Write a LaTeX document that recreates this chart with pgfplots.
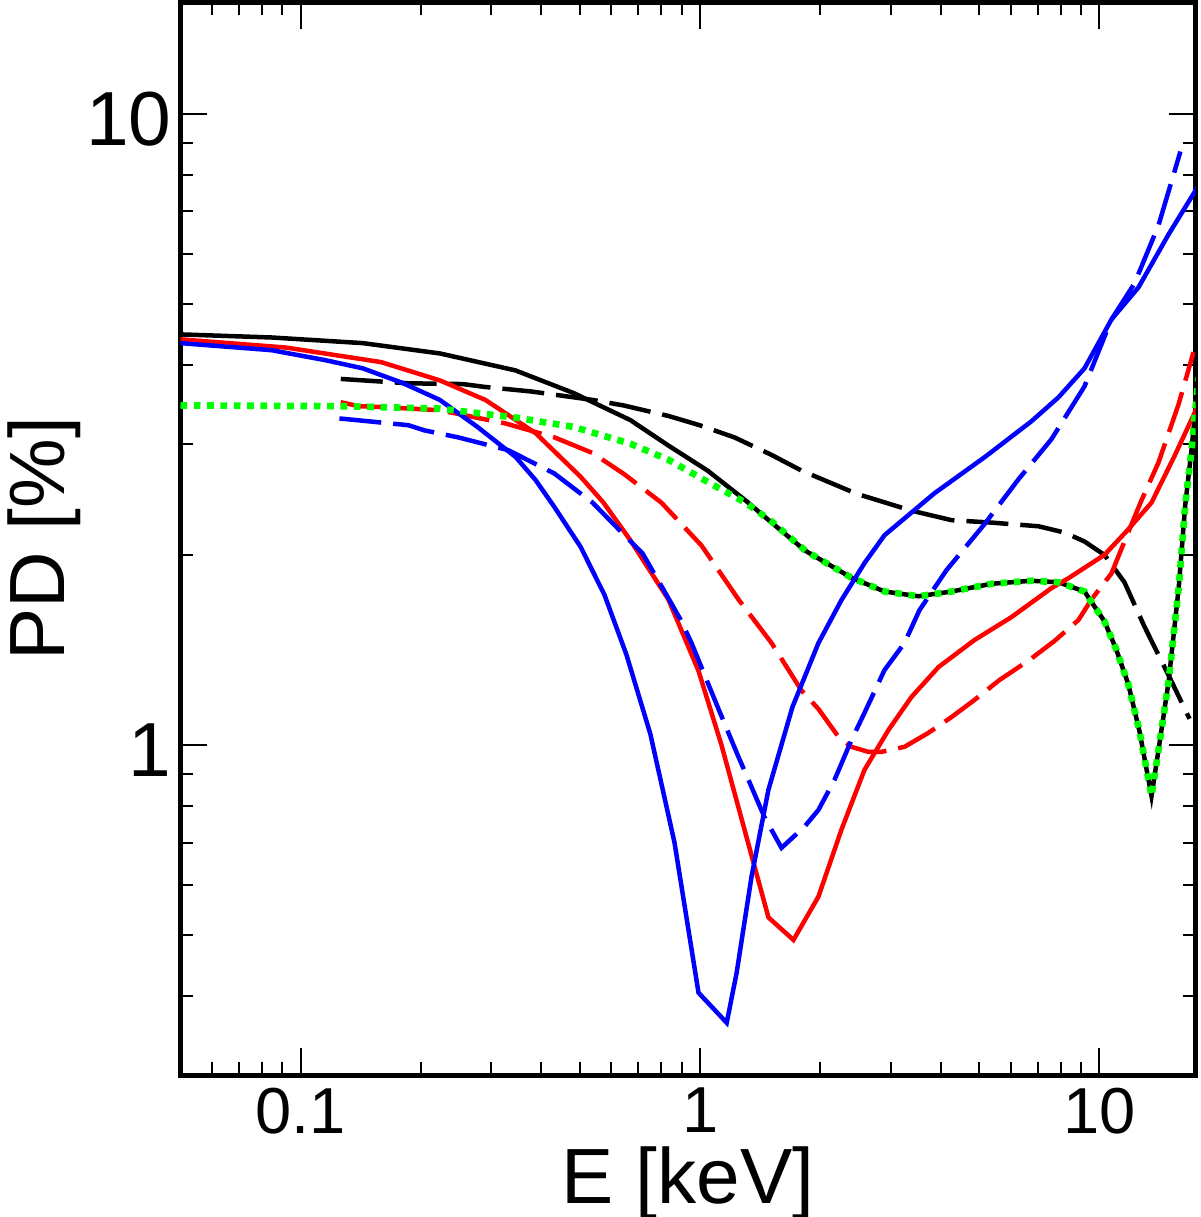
\documentclass[border=0pt]{standalone}
\usepackage{pgfplots}
\pgfplotsset{compat=1.18}
\usepackage{fontspec}
\setmainfont{Liberation Sans}

\definecolor{pdblue}{RGB}{0,0,255}
\definecolor{pdred}{RGB}{255,0,0}
\definecolor{pdgreen}{RGB}{0,255,0}

\begin{document}
\begin{tikzpicture}
\begin{axis}[
  xmode=log, ymode=log,
  scale only axis,
  width=304.5pt, height=321.75pt,
  xmin=0.05, xmax=17.4, ymin=0.3, ymax=15,
  axis line style={line width=1.5pt},
  every tick/.style={line width=0.6pt, black},
  major tick length=8pt, minor tick length=3.8pt,
  xtick={0.1,1,10}, xticklabels={0.1,1,10},
  ytick={1,10}, yticklabels={1,10},
  minor xtick={0.06,0.07,0.08,0.09,0.2,0.3,0.4,0.5,0.6,0.7,0.8,0.9,2,3,4,5,6,7,8,9},
  minor ytick={0.4,0.5,0.6,0.7,0.8,0.9,2,3,4,5,6,7,8,9},
  /pgf/number format/assume math mode=true,
  xticklabel style={font=\fontsize{19.5}{23}\selectfont, inner sep=0pt, anchor=north, yshift=-3.6pt},
  yticklabel style={font=\fontsize{23}{28}\selectfont, inner sep=0pt, anchor=east, xshift=-2.55pt, yshift=-1.5pt},
  xlabel={E [keV]}, ylabel={PD [\%]},
  label style={font=\fontsize{23.5}{28}\selectfont},
  xlabel style={at={(axis description cs:0.5,-0.1195)}, anchor=base, inner sep=0pt},
  ylabel style={at={(axis description cs:-0.1138,0.5)}, anchor=base, inner sep=0pt},
  every axis plot/.append style={line width=1.35pt},
]

% black, solid
\addplot[black] coordinates {
(0.05,4.47) (0.0845,4.42) (0.143,4.33) (0.223,4.17) (0.345,3.92) (0.482,3.61)
(0.669,3.27) (0.833,2.98) (1.044,2.72) (1.299,2.44) (1.510,2.25) (1.836,2.03)
(2.394,1.84) (2.896,1.75) (3.524,1.72) (4.262,1.75) (5.365,1.80) (6.756,1.82)
(7.896,1.81) (9.174,1.75) (10.29,1.57) (11.0,1.42) (11.8,1.25) (12.6,1.05)
(13.5,0.83) (14.05,0.98) (14.9,1.26) (15.8,1.78) (16.4,2.4) (17.0,2.93) (17.7,3.82)
};

% black, dashed
\addplot[black, dash pattern=on 12.6pt off 3.6pt] coordinates {
(0.126,3.80) (0.186,3.74) (0.254,3.73) (0.290,3.69) (0.378,3.63) (0.538,3.52)
(0.643,3.45) (0.833,3.32) (0.997,3.21) (1.219,3.07) (1.510,2.88) (1.794,2.72)
(2.464,2.50) (3.383,2.35) (4.262,2.27) (5.365,2.25) (7.036,2.22) (8.173,2.17)
(9.174,2.10) (10.29,2.00) (11.55,1.81) (12.96,1.54) (14.89,1.29) (16.81,1.10)
};

% red, solid
\addplot[pdred] coordinates {
(0.050,4.39) (0.092,4.26) (0.159,4.04) (0.223,3.78) (0.290,3.52) (0.387,3.12)
(0.502,2.66) (0.573,2.42) (0.669,2.11) (0.833,1.70) (0.991,1.31) (1.131,1.00)
(1.292,0.734) (1.483,0.533) (1.713,0.491) (1.979,0.575) (2.259,0.734) (2.580,0.913)
(2.963,1.056) (3.383,1.191) (3.953,1.328) (4.864,1.466) (6.021,1.594) (7.583,1.772)
(8.363,1.837) (10.29,2.00) (11.69,2.18) (13.50,2.42) (15.38,2.86) (17.70,3.46)
};

% red, dashed
\addplot[pdred, dash pattern=on 12.6pt off 3.6pt] coordinates {
(0.126,3.49) (0.140,3.44) (0.159,3.43) (0.223,3.39) (0.326,3.23) (0.432,3.07)
(0.538,2.90) (0.643,2.69) (0.800,2.42) (1.008,2.07) (1.248,1.70) (1.510,1.45)
(1.794,1.22) (1.979,1.14) (2.221,1.03) (2.394,0.993) (2.638,0.975) (2.846,0.975)
(3.249,0.993) (3.731,1.045) (4.262,1.107) (4.864,1.178) (5.618,1.267) (6.677,1.363)
(7.715,1.461) (8.859,1.577) (9.55,1.70) (10.72,1.87) (11.55,2.10) (12.67,2.42)
(14.05,2.80) (15.77,3.46) (17.20,4.19)
};

% blue, solid
\addplot[pdblue] coordinates {
(0.050,4.33) (0.0845,4.22) (0.115,4.07) (0.143,3.95) (0.179,3.75) (0.223,3.52)
(0.277,3.19) (0.345,2.86) (0.387,2.63) (0.432,2.38) (0.502,2.06) (0.576,1.73)
(0.654,1.39) (0.751,1.04) (0.863,0.700) (0.991,0.405) (1.166,0.363) (1.235,0.436)
(1.345,0.618) (1.483,0.849) (1.703,1.148) (1.979,1.450) (2.259,1.696) (2.580,1.941)
(2.896,2.149) (3.863,2.504) (5.153,2.855) (6.756,3.256) (7.896,3.553) (9.174,3.950)
(10.72,4.722) (12.52,5.305) (14.89,6.435) (17.70,7.69)
};

% blue, dashed
\addplot[pdblue, dash pattern=on 12.6pt off 3.6pt] coordinates {
(0.125,3.29) (0.186,3.21) (0.204,3.15) (0.248,3.07) (0.331,2.93) (0.432,2.69)
(0.538,2.42) (0.628,2.19) (0.718,2.01) (0.819,1.74) (0.893,1.58) (0.952,1.45)
(1.112,1.14) (1.248,0.957) (1.322,0.880) (1.449,0.769) (1.599,0.687) (1.825,0.742)
(1.979,0.789) (2.170,0.880) (2.394,1.018) (2.580,1.124) (2.896,1.314) (3.249,1.450)
(3.543,1.635) (4.140,1.892) (5.153,2.237) (6.270,2.635) (7.583,3.050) (9.174,3.699)
(10.72,4.722) (12.24,5.383) (14.05,6.650) (15.95,8.709)
};

% green, dotted
\addplot[pdgreen, line width=2pt, dash pattern=on 2pt off 2pt] coordinates {
(0.05,3.45) (0.128,3.44) (0.223,3.41) (0.345,3.30) (0.482,3.19) (0.669,3.00)
(0.833,2.83) (1.044,2.61) (1.299,2.42) (1.510,2.26) (1.836,2.03)
(2.394,1.84) (2.896,1.75) (3.524,1.72) (4.262,1.75) (5.365,1.80) (6.756,1.82)
(7.896,1.81) (9.174,1.75) (10.29,1.57) (11.0,1.42) (11.8,1.25) (12.6,1.05)
(13.5,0.83) (14.05,0.98) (14.9,1.26) (15.8,1.78) (16.4,2.4) (17.0,2.93) (17.7,3.82)
};

\end{axis}
\pgfresetboundingbox
\path[use as bounding box]
  ([shift={(-54.15pt,-42.6pt)}]current axis.south west)
  rectangle ([shift={(1.35pt,0.75pt)}]current axis.north east);
\end{tikzpicture}
\end{document}
